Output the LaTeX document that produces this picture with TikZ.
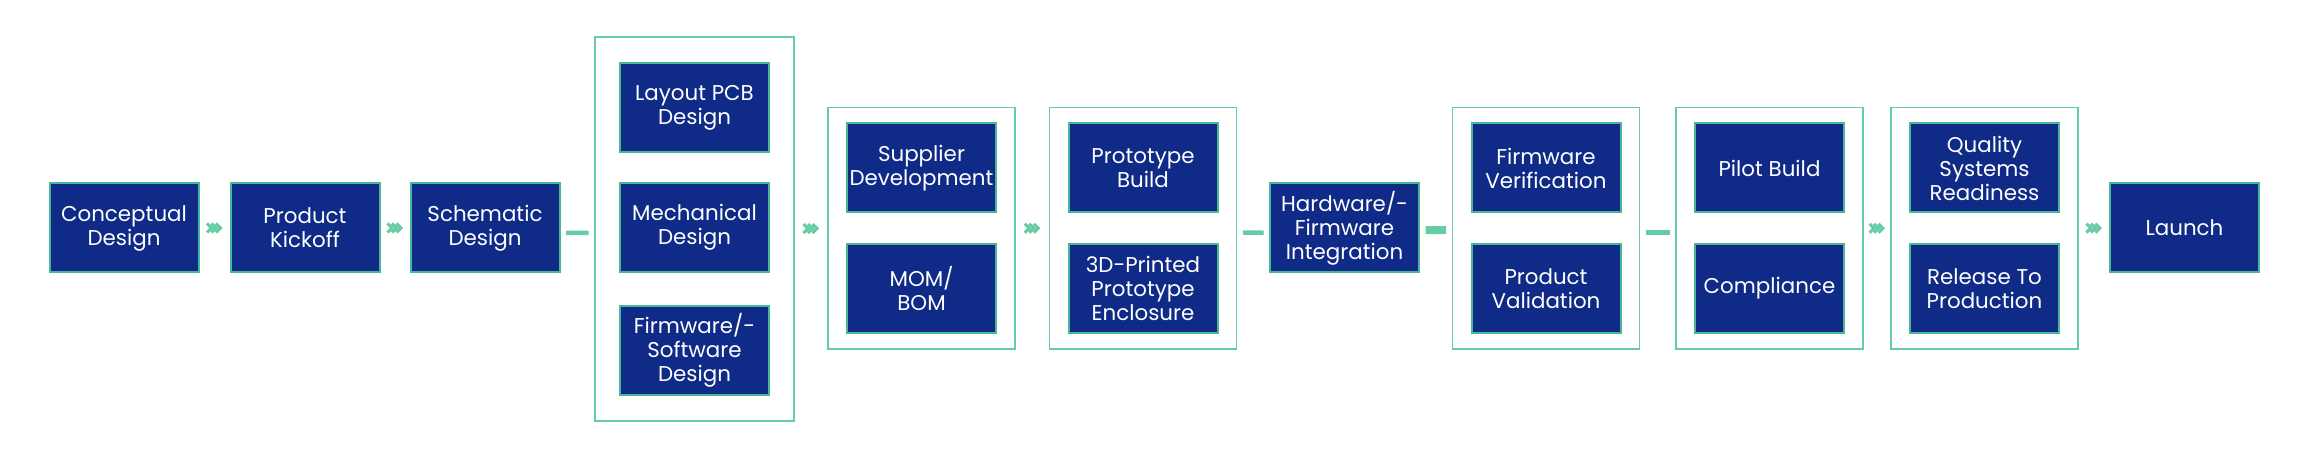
\documentclass[tikz,border=0pt]{standalone}
\usepackage{fontspec}
\setmainfont{Poppins}
\usetikzlibrary{calc}
\usetikzlibrary{fit}
\definecolor{stepnavy}{RGB}{15,42,135}
\definecolor{stepmint}{RGB}{102,204,164}
\definecolor{stepedge}{RGB}{72,182,152}
\tikzset{
  stage/.style={draw=stepedge, line width=1pt, fill=stepnavy, text=white,
    minimum width=74.5pt, minimum height=44.5pt, inner sep=0pt, align=center,
    font=\fontsize{10.7}{12}\selectfont},
  grp/.style={draw=stepmint, line width=0.8pt, inner xsep=9pt, inner ysep=7.5pt},
  bar/.style={stepmint, line width=2.25pt, shorten <=2.75pt, shorten >=2.75pt},
  thinbar/.style={bar, transform canvas={yshift=-2.25pt}},
  thickbar/.style={bar, line width=4pt, transform canvas={yshift=-1pt}},
  chev/.pic={\foreach \k in {-4.5,0,4.5}
    \draw[stepmint, line width=1.5pt] (\k-3,-4.5) -- (\k+1.5,0) -- (\k-3,4.5);}
}
\begin{document}
\begin{tikzpicture}[x=0.5pt,y=-0.5pt]
\useasboundingbox (0,0) rectangle (2304,459);

\node[stage] (cd) at (124,228) {Conceptual\\Design};
\node[stage] (pk) at (305,228) {Product\\Kickoff};
\node[stage] (sd) at (485,228) {Schematic\\Design};

\node[stage] (lp) at (694.5,107.5) {Layout PCB\\Design};
\node[stage] (md) at (694.5,227.5) {Mechanical\\Design};
\node[stage] (fs) at (694.5,350.5) {Firmware/-\\Software\\Design};
\node[grp, fit=(lp)(fs), inner xsep=12pt, inner ysep=12.5pt] (g1) {};

\node[stage] (sp) at (921.5,168) {Supplier\\Development};
\node[stage] (mb) at (921.5,288.5) {MOM/\\BOM};
\node[grp, fit=(sp)(mb)] (g2) {};

\node[stage] (pb) at (1143,168) {Prototype\\Build};
\node[stage] (pe) at (1143,288.5) {3D-Printed\\Prototype\\Enclosure};
\node[grp, fit=(pb)(pe)] (g3) {};

\node[stage] (hw) at (1344.5,228) {Hardware/-\\Firmware\\Integration};

\node[stage] (fv) at (1546,168) {Firmware\\Verification};
\node[stage] (pv) at (1546,288.5) {Product\\Validation};
\node[grp, fit=(fv)(pv)] (g4) {};

\node[stage] (pi) at (1769.5,168) {Pilot Build};
\node[stage] (cp) at (1769.5,288.5) {Compliance};
\node[grp, fit=(pi)(cp)] (g5) {};

\node[stage] (qs) at (1984.5,168) {Quality\\Systems\\Readiness};
\node[stage] (rp) at (1984.5,288.5) {Release To\\Production};
\node[grp, fit=(qs)(rp)] (g6) {};

\node[stage] (ln) at (2184.5,228) {Launch};

\path (cd) -- (pk) pic[midway]{chev};
\path (pk) -- (sd) pic[midway]{chev};
\draw[thinbar] (sd) -- (g1);
\path (g1) -- (g2) pic[midway]{chev};
\path (g2) -- (g3) pic[midway]{chev};
\draw[thinbar] (g3) -- (hw);
\draw[thickbar] (hw) -- (g4);
\draw[thinbar] (g4) -- (g5);
\path (g5) -- (g6) pic[midway]{chev};
\path (g6) -- (ln) pic[midway]{chev};
\end{tikzpicture}
\end{document}
